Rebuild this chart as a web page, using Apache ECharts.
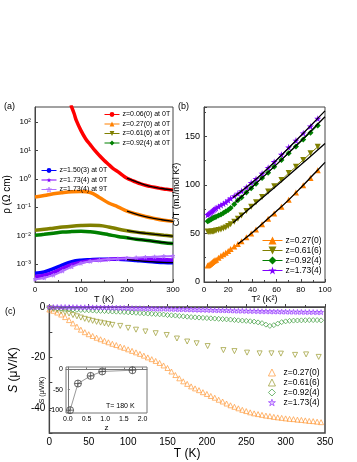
<!DOCTYPE html>
<html>
<head>
<meta charset="utf-8">
<script src="https://cdn.jsdelivr.net/npm/echarts@6/dist/echarts.min.js"></script>
<style>
  html, body { margin: 0; padding: 0; background: #fff; }
  #chart { width: 357px; height: 462px; }
</style>
</head>
<body>
<div id="chart"></div>
<script>
// ---- (a) resistivity vs T ----
const rhoT = [0, 20, 40, 60, 80, 100, 120, 140, 160, 180, 200, 220, 240, 260, 280, 300]
const rhoRedT = [78, 85, 90, 100, 110, 120, 130, 140, 150, 160, 170, 180, 190, 200, 210, 220, 230, 240, 250, 260, 270, 280, 290, 300]
const rhoRed = [400, 200, 112, 50, 26, 16, 10, 6.6, 4.5, 3.2, 2.3, 1.8, 1.35, 1.05, 0.89, 0.76, 0.66, 0.59, 0.54, 0.50, 0.47, 0.44, 0.42, 0.40]
const rhoOrange = [0.229, 0.257, 0.295, 0.324, 0.347, 0.355, 0.33, 0.22, 0.14, 0.103, 0.0724, 0.0575, 0.0468, 0.0398, 0.0347, 0.0316]
const rhoOlive = [0.0155, 0.0166, 0.0182, 0.0200, 0.0214, 0.0224, 0.0229, 0.0224, 0.0200, 0.0170, 0.0148, 0.0132, 0.0120, 0.0110, 0.0102, 0.0095]
const rhoGreen = [0.0102, 0.0110, 0.0120, 0.0132, 0.0138, 0.0141, 0.0135, 0.0123, 0.0107, 0.0093, 0.0083, 0.0074, 0.0068, 0.0062, 0.0056, 0.0052]
const rhoBlue = [4.7e-4, 5.2e-4, 6.8e-4, 9.3e-4, 1.2e-3, 1.35e-3, 1.41e-3, 1.45e-3, 1.45e-3, 1.45e-3, 1.41e-3, 1.32e-3, 1.23e-3, 1.17e-3, 1.12e-3, 1.10e-3]
const rhoPurple = [3.6e-4, 4.0e-4, 5.0e-4, 7.1e-4, 9.5e-4, 1.15e-3, 1.29e-3, 1.38e-3, 1.45e-3, 1.51e-3, 1.55e-3, 1.51e-3, 1.48e-3, 1.45e-3, 1.41e-3, 1.38e-3]
const rhoPurple9T = [2.9e-4, 3.2e-4, 4.0e-4, 5.6e-4, 7.9e-4, 1.05e-3, 1.23e-3, 1.35e-3, 1.45e-3, 1.51e-3, 1.58e-3, 1.66e-3, 1.74e-3, 1.78e-3, 1.86e-3, 1.91e-3]
const rhoFitT = [200, 225, 250, 275, 300]
const rhoFitRed = [1.05, 0.73, 0.54, 0.455, 0.40]
const rhoFitOrange = [0.0724, 0.054, 0.0427, 0.036, 0.0316]
const rhoFitOlive = [0.0148, 0.0128, 0.0115, 0.0104, 0.0095]
const rhoFitGreen = [0.0083, 0.0072, 0.0065, 0.0058, 0.0052]
const rhoFitBlue = [1.41e-3, 1.30e-3, 1.20e-3, 1.13e-3, 1.10e-3]

// ---- (b) C/T vs T^2 ----
const ctT2 = [3, 4, 5, 6, 7, 8, 9, 10, 12, 14, 16, 18, 20, 22, 25, 28, 31, 35, 39, 43, 48, 53, 58, 64, 70, 76, 82, 88, 94]
const ctOrange = [17, 17.5, 18.5, 19.5, 20.5, 21.5, 22.5, 23, 25, 27, 28.5, 30, 32, 34, 36.5, 39, 42, 46, 50, 54, 59.5, 65, 70.5, 77.5, 84.5, 92, 99.5, 107, 115]
const ctOlive = [52, 51.5, 51.5, 52, 52, 52, 52.5, 53, 53.5, 54, 55, 56, 57.5, 59.5, 62, 65, 68.5, 73, 77.5, 82, 87.5, 93, 98.5, 105, 112, 118.5, 125.5, 132.5, 139]
const ctGreen = [62.5, 63, 64, 64.5, 65.5, 66, 66.5, 67, 68.5, 69.5, 71, 72.5, 74, 76, 80, 84, 87, 92, 96.5, 101, 107, 112.5, 118.5, 125.5, 132.5, 139.5, 146.5, 153.5, 161]
const ctPurple = [69, 70, 71, 72, 73, 74, 75, 76, 77.5, 79, 80.5, 82, 84, 86, 88.5, 91, 93.5, 97.5, 102, 106, 111.5, 117.5, 123.5, 131, 138.5, 145.5, 153, 160, 168]
const ctFitOrange = [[28, 39], [40, 51], [50, 62], [60, 73], [70, 84.5], [80, 97], [90, 110], [100, 123]]
const ctFitOlive = [[24, 61], [40, 78], [60, 99], [80, 120.5], [100, 142.5]]
const ctFitGreen = [[26, 82], [40, 98], [60, 121], [80, 145], [100, 170]]
const ctFitPurple = [[24, 87], [40, 102.5], [60, 125.5], [80, 150.5], [100, 176]]

// ---- (c) thermopower vs T ----
const sT = [0, 5, 10, 15, 20, 25, 30, 35, 40, 45, 50, 55, 60, 65, 70, 75, 80, 85, 90, 95, 100, 105, 110, 115, 120, 125, 130, 135, 140, 145, 150, 155, 160, 165, 170, 175, 180, 185, 190, 195, 200, 205, 210, 215, 220, 225, 230, 235, 240, 245, 250, 255, 260, 265, 270, 275, 280, 285, 290, 295, 300, 305, 310, 315, 320, 325, 330, 335, 340, 345]
const sOrange = [-1, -1.5, -2.2, -3, -4, -5.2, -6.5, -7.8, -9, -10, -10.8, -11.5, -12.2, -12.8, -13.4, -14, -14.6, -15.1, -15.7, -16.2, -16.8, -17.4, -18, -18.6, -19.3, -20, -20.7, -21.4, -22.2, -23.2, -24.2, -25.6, -27, -28.3, -29.5, -30.5, -31.5, -32.3, -33, -33.8, -34.5, -35.3, -36, -36.8, -37.5, -38.3, -39, -39.6, -40.2, -40.8, -41.3, -41.8, -42.2, -42.5, -42.8, -43.1, -43.3, -43.6, -43.8, -44, -44.2, -44.4, -44.5, -44.7, -44.8, -45, -45.2, -45.3, -45.5, -45.7]
const sGreen = [-0.2, -0.3, -0.5, -0.6, -0.8, -0.9, -1.0, -1.1, -1.2, -1.25, -1.3, -1.4, -1.5, -1.55, -1.6, -1.7, -1.8, -1.85, -1.9, -2.0, -2.1, -2.2, -2.3, -2.4, -2.5, -2.6, -2.7, -2.8, -2.9, -3.0, -3.2, -3.3, -3.4, -3.55, -3.7, -3.85, -4.0, -4.1, -4.2, -4.3, -4.4, -4.5, -4.6, -4.7, -4.8, -4.9, -5.0, -5.15, -5.3, -5.4, -5.5, -5.65, -5.8, -6.1, -6.4, -7.0, -7.5, -7.2, -6.6, -6.0, -5.7, -5.5, -5.4, -5.35, -5.3, -5.25, -5.2, -5.2, -5.2, -5.3]
const sPurple = [0, 0, 0, 0, 0, -0.05, -0.05, -0.05, -0.1, -0.1, -0.1, -0.15, -0.15, -0.2, -0.2, -0.25, -0.3, -0.3, -0.35, -0.35, -0.4, -0.45, -0.5, -0.5, -0.55, -0.6, -0.6, -0.65, -0.7, -0.7, -0.75, -0.8, -0.85, -0.9, -0.9, -0.95, -1.0, -1.05, -1.1, -1.1, -1.15, -1.2, -1.25, -1.3, -1.3, -1.35, -1.4, -1.45, -1.5, -1.5, -1.55, -1.6, -1.6, -1.65, -1.7, -1.7, -1.75, -1.8, -1.8, -1.85, -1.85, -1.9, -1.9, -1.95, -1.95, -2.0, -2.0, -2.0, -2.05, -2.05]
const sOliveT = [0, 5, 10, 15, 20, 25, 30, 35, 40, 45, 50, 55, 60, 65, 70, 75, 80, 90, 100, 110, 122, 135, 149, 162, 175, 187, 201, 221, 235, 251, 267, 282, 294, 312, 326, 342]
const sOlive = [-0.5, -0.8, -1.2, -1.6, -2.1, -2.6, -3.2, -3.7, -4.2, -4.7, -5.1, -5.5, -5.9, -6.2, -6.5, -6.8, -7.1, -7.5, -8.3, -9.0, -9.7, -10.4, -11.1, -12.5, -13.7, -14.4, -15.5, -17.1, -17.5, -18.1, -18.4, -18.4, -18.5, -19.0, -18.8, -19.8]

// inset: S at 180 K vs z
const insetZ = [0.06, 0.27, 0.61, 0.92, 1.73]
const insetS = [-101, -35, -16, -5, -2]

const zip = (xs, ys) => xs.map((x, i) => [x, ys[i]])
const FONT = 'Liberation Sans, Arial, sans-serif'
const STAR = 'path://M50,2 L61.2,36.3 L97.6,36.3 L68.2,57.6 L79.4,92 L50,70.8 L20.6,92 L31.8,57.6 L2.4,36.3 L38.8,36.3 Z'
const CROSSCIRCLE = 'path://M50,4 A46,46 0 1 1 49.9,4 Z M50,4 L50,96 M4,50 L96,50'
const SUP = { '0': '⁰', '1': '¹', '2': '²', '3': '³', '-': '⁻' }
const supStr = n => String(n).split('').map(c => SUP[c]).join('')

const C = {
  red: '#ff0000', orange: '#ff8000', olive: '#808000', green: '#008000',
  blue: '#0000ff', purple: '#8000ff', lpurple: '#b070ff',
  cOrange: '#ff9a3c', cOlive: '#9a9a30', cGreen: '#3a9a3a', cPurple: '#9a40ff'
}
const frame = '#444'

function baseAxis (gridIndex, extra) {
  return Object.assign({
    gridIndex: gridIndex,
    type: 'value',
    axisLine: { show: true, lineStyle: { color: frame, width: 1 } },
    axisTick: { show: true, inside: true, length: 3, lineStyle: { color: frame } },
    minorTick: { show: true, splitNumber: 2, length: 2, lineStyle: { color: frame } },
    splitLine: { show: false },
    axisLabel: { color: '#000', fontFamily: FONT, fontSize: 8, margin: 4 },
    nameLocation: 'middle',
    nameTextStyle: { color: '#000', fontFamily: FONT, fontSize: 9 }
  }, extra)
}

function lineA (name, xs, ys, color, symbol, extra) {
  return Object.assign({
    name: name, type: 'line', xAxisIndex: 0, yAxisIndex: 0,
    data: zip(xs, ys), smooth: 0.4, showSymbol: false, symbol: symbol, symbolSize: 5,
    lineStyle: { color: color, width: 3.5 },
    itemStyle: { color: color }
  }, extra)
}

function fitLine (xi, yi, data) {
  return {
    name: 'fit', type: 'line', xAxisIndex: xi, yAxisIndex: yi, data: data, smooth: 0.4,
    showSymbol: false, lineStyle: { color: '#000', width: 1.3 }, z: 5, silent: true
  }
}

function seriesB (name, ys, color, symbol, extra) {
  return Object.assign({
    name: name, type: 'line', xAxisIndex: 1, yAxisIndex: 1,
    data: zip(ctT2, ys), symbol: symbol, symbolSize: 6,
    lineStyle: { color: color, width: 1 },
    itemStyle: { color: color }
  }, extra)
}

function seriesC (name, xs, ys, color, symbol, extra) {
  return Object.assign({
    name: name, type: 'scatter', xAxisIndex: 2, yAxisIndex: 2,
    data: zip(xs, ys), symbol: symbol, symbolSize: 5,
    itemStyle: { color: 'rgba(255,255,255,0)', borderColor: color, borderWidth: 0.9 }
  }, extra)
}

const chart = echarts.init(document.getElementById('chart'))
const option = {
  animation: false,
  backgroundColor: '#fff',
  textStyle: { fontFamily: FONT },
  grid: [
    { left: 35, top: 107, width: 138, height: 175, show: true, borderColor: frame, borderWidth: 1 },
    { left: 204, top: 107, width: 121, height: 175, show: true, borderColor: frame, borderWidth: 1 },
    { left: 35, top: 307, width: 290, height: 126, show: true, borderColor: frame, borderWidth: 1.5 },
    { left: 66, top: 367, width: 81, height: 46, show: true, borderColor: '#777', borderWidth: 1, backgroundColor: '#fff' }
  ],
  xAxis: [
    baseAxis(0, { min: 0, max: 300, interval: 100, name: 'T (K)', nameGap: 12 }),
    baseAxis(1, { min: 0, max: 100, interval: 20, name: 'T² (K²)', nameGap: 12 }),
    baseAxis(2, {
      min: 0, max: 350, interval: 50, name: 'T (K)', nameGap: 15,
      axisLabel: { color: '#000', fontFamily: FONT, fontSize: 10, margin: 4 },
      nameTextStyle: { color: '#000', fontFamily: FONT, fontSize: 12 }
    }),
    baseAxis(3, {
      min: -0.05, max: 2.12, name: 'z', nameGap: 9,
      axisLine: { show: true, lineStyle: { color: '#777' } },
      axisLabel: { color: '#000', fontFamily: FONT, fontSize: 7, margin: 3, customValues: [0, 0.5, 1, 1.5, 2], formatter: v => v.toFixed(1) },
      axisTick: { show: true, inside: true, length: 2, customValues: [0, 0.5, 1, 1.5, 2], lineStyle: { color: '#777' } },
      minorTick: { show: false },
      nameTextStyle: { color: '#000', fontFamily: FONT, fontSize: 8 }
    })
  ],
  yAxis: [
    baseAxis(0, {
      type: 'log', logBase: 10, min: 2.3e-4, max: 340, splitNumber: 6,
      name: 'ρ (Ω cm)', nameGap: 19,
      minorTick: { show: false },
      axisLabel: {
        color: '#000', fontFamily: FONT, fontSize: 8, margin: 4, showMinLabel: false, showMaxLabel: false,
        formatter: v => {
          const e = Math.round(Math.log10(v))
          if (Math.abs(Math.log10(v) - e) > 0.01) return ''
          return '10' + supStr(e)
        }
      },
      nameTextStyle: { color: '#000', fontFamily: FONT, fontSize: 10 }
    }),
    baseAxis(1, {
      min: 0, max: 180, interval: 50, name: 'C/T (mJ/mol K²)', nameGap: 18,
      axisLabel: { color: '#000', fontFamily: FONT, fontSize: 9, margin: 4, showMaxLabel: false }
    }),
    baseAxis(2, {
      min: -50, max: 0, interval: 10, name: '{i|S} (μV/K)', nameGap: 16,
      minorTick: { show: false },
      axisLabel: { color: '#000', fontFamily: FONT, fontSize: 10, margin: 4, formatter: v => (v % 20 === 0 ? String(v) : '') },
      nameTextStyle: { color: '#000', fontFamily: FONT, fontSize: 12, rich: { i: { fontStyle: 'italic', fontSize: 12, fontFamily: FONT } } }
    }),
    baseAxis(3, {
      min: -108, max: 6, name: 'S (μV/K)', nameGap: 17,
      axisLine: { show: true, lineStyle: { color: '#777' } },
      axisLabel: { color: '#000', fontFamily: FONT, fontSize: 7, margin: 3, customValues: [0, -50, -100] },
      axisTick: { show: true, inside: true, length: 2, customValues: [0, -50, -100], lineStyle: { color: '#777' } },
      minorTick: { show: false },
      nameTextStyle: { color: '#000', fontFamily: FONT, fontSize: 7 }
    })
  ],
  legend: [
    {
      data: ['z=0.06(0) at 0T', 'z=0.27(0) at 0T', 'z=0.61(6) at 0T', 'z=0.92(4) at 0T'],
      orient: 'vertical', left: 99, top: 106, itemWidth: 15, itemHeight: 6, itemGap: 2.5,
      textStyle: { fontFamily: FONT, fontSize: 7, color: '#000', padding: [0, 0, 0, -2] },
      lineStyle: { width: 1 }, itemStyle: { borderWidth: 0.8 }, selectedMode: false
    },
    {
      data: ['z=1.50(3) at 0T', 'z=1.73(4) at 0T', 'z=1.73(4) at 9T'],
      orient: 'vertical', left: 36, top: 162, itemWidth: 15, itemHeight: 6, itemGap: 2.5,
      textStyle: { fontFamily: FONT, fontSize: 7, color: '#000', padding: [0, 0, 0, -2] },
      lineStyle: { width: 1 }, itemStyle: { borderWidth: 0.8 }, selectedMode: false
    },
    {
      data: ['b z=0.27(0)', 'b z=0.61(6)', 'b z=0.92(4)', 'b z=1.73(4)'],
      formatter: n => n.slice(2),
      orient: 'vertical', left: 257, top: 231, itemWidth: 20, itemHeight: 10, itemGap: 1,
      textStyle: { fontFamily: FONT, fontSize: 8.5, color: '#000', padding: [0, 0, 0, -2] },
      lineStyle: { width: 1 }, selectedMode: false
    },
    {
      data: ['c z=0.27(0)', 'c z=0.61(6)', 'c z=0.92(4)', 'c z=1.73(4)'],
      formatter: n => n.slice(2),
      orient: 'vertical', left: 263, top: 363, itemWidth: 7, itemHeight: 7, itemGap: 1,
      textStyle: { fontFamily: FONT, fontSize: 8.5, color: '#000', padding: [0, 0, 0, 3] },
      itemStyle: { borderWidth: 0.9 }, selectedMode: false
    }
  ],
  graphic: [
    { type: 'text', left: 4, top: 102, style: { text: '(a)', font: '9px ' + FONT, fill: '#000' } },
    { type: 'text', left: 178, top: 102, style: { text: '(b)', font: '9px ' + FONT, fill: '#000' } },
    { type: 'text', left: 5, top: 307, style: { text: '(c)', font: '9px ' + FONT, fill: '#000' } },
    { type: 'text', left: 106, top: 403, style: { text: 'T= 180 K', font: '7px ' + FONT, fill: '#000' }, z: 10 }
  ],
  series: [
    // (a)
    lineA('z=0.06(0) at 0T', rhoRedT, rhoRed, C.red, 'circle'),
    lineA('z=0.27(0) at 0T', rhoT, rhoOrange, C.orange, 'triangle'),
    lineA('z=0.61(6) at 0T', rhoT, rhoOlive, C.olive, 'triangle', { symbolRotate: 180 }),
    lineA('z=0.92(4) at 0T', rhoT, rhoGreen, C.green, 'diamond'),
    lineA('z=1.50(3) at 0T', rhoT, rhoBlue, C.blue, 'circle'),
    lineA('z=1.73(4) at 0T', rhoT, rhoPurple, C.purple, STAR),
    lineA('z=1.73(4) at 9T', rhoT, rhoPurple9T, C.lpurple, STAR, {
      showSymbol: true, symbolSize: 4, lineStyle: { color: C.lpurple, width: 2 },
      itemStyle: { color: 'rgba(255,255,255,0)', borderColor: C.lpurple, borderWidth: 0.8 }
    }),
    fitLine(0, 0, zip(rhoFitT, rhoFitRed)),
    fitLine(0, 0, zip(rhoFitT, rhoFitOrange)),
    fitLine(0, 0, zip(rhoFitT, rhoFitOlive)),
    fitLine(0, 0, zip(rhoFitT, rhoFitGreen)),
    fitLine(0, 0, zip(rhoFitT, rhoFitBlue)),
    // (b)
    seriesB('b z=0.27(0)', ctOrange, C.orange, 'triangle'),
    seriesB('b z=0.61(6)', ctOlive, C.olive, 'triangle', { symbolRotate: 180 }),
    seriesB('b z=0.92(4)', ctGreen, C.green, 'diamond'),
    seriesB('b z=1.73(4)', ctPurple, C.purple, STAR, { symbolSize: 7 }),
    fitLine(1, 1, ctFitOrange),
    fitLine(1, 1, ctFitOlive),
    fitLine(1, 1, ctFitGreen),
    fitLine(1, 1, ctFitPurple),
    // (c)
    seriesC('c z=0.27(0)', sT, sOrange, C.cOrange, 'triangle'),
    seriesC('c z=0.61(6)', sOliveT, sOlive, C.cOlive, 'triangle', { symbolRotate: 180 }),
    seriesC('c z=0.92(4)', sT, sGreen, C.cGreen, 'diamond'),
    seriesC('c z=1.73(4)', sT, sPurple, C.cPurple, STAR, {
      itemStyle: { color: 'rgba(154,64,255,0.35)', borderColor: C.cPurple, borderWidth: 0.9 }
    }),
    // inset
    {
      name: 'inset', type: 'line', xAxisIndex: 3, yAxisIndex: 3, data: zip(insetZ, insetS),
      symbol: CROSSCIRCLE, symbolSize: 7, z: 10,
      lineStyle: { color: '#999', width: 1 },
      itemStyle: { color: 'rgba(255,255,255,0)', borderColor: '#444', borderWidth: 0.8 }
    }
  ]
}
chart.setOption(option)
</script>
</body>
</html>
